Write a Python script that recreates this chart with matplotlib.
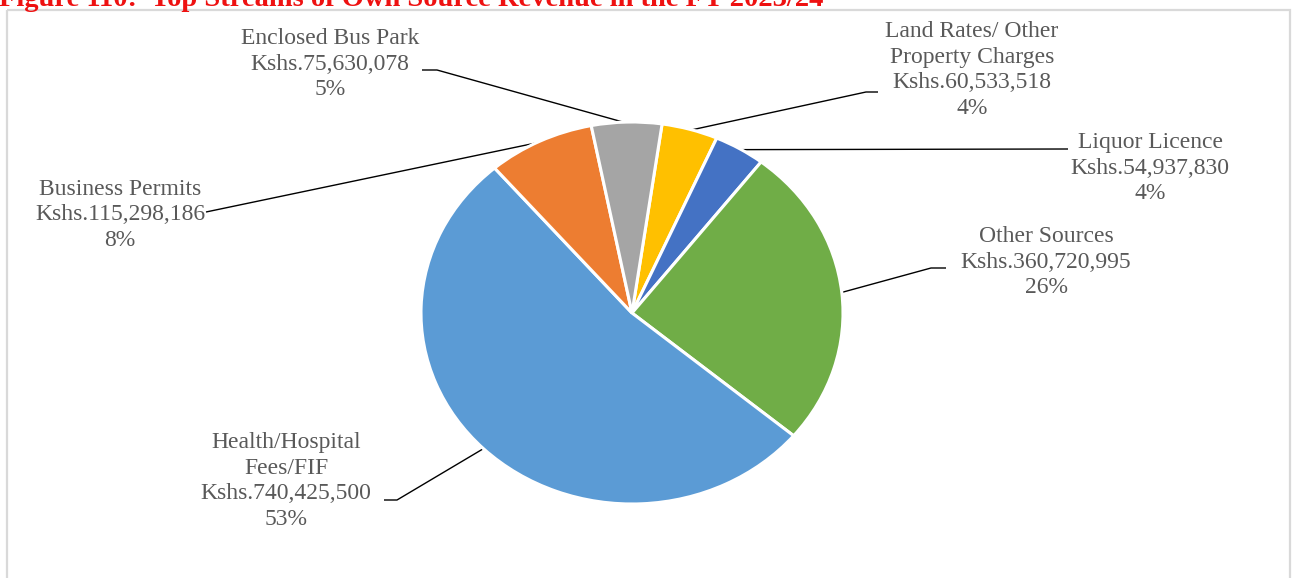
import numpy as np
import matplotlib
matplotlib.use("Agg")
import matplotlib.pyplot as plt
from matplotlib.patches import Rectangle

# Own source revenue streams (Kshs), in clockwise order from the top
streams = ["Land Rates/ Other\nProperty Charges", "Liquor Licence", "Other Sources",
           "Health/Hospital\nFees/FIF", "Business Permits", "Enclosed Bus Park"]
revenue = [60533518, 54937830, 360720995, 740425500, 115298186, 75630078]
colors = ["#FFC000", "#4472C4", "#70AD47", "#5B9BD5", "#ED7D31", "#A5A5A5"]
title = "Figure 110:  Top Streams of Own Source Revenue in the FY 2023/24"

W, H = 1292, 578
fig = plt.figure(figsize=(W / 100, H / 100), dpi=100)
fig.patch.set_facecolor("white")

# overlay in pixel coordinates for frame, labels and leader lines
ov = fig.add_axes([0, 0, 1, 1])
ov.set_xlim(0, W)
ov.set_ylim(H, 0)
ov.axis("off")

ov.add_patch(Rectangle((7, 10), 1283, 620, fill=False, edgecolor="#D9D9D9",
                       linewidth=1.6, clip_on=False))
ov.text(-1, 6, title, color="#EE1111", fontweight="bold", fontsize=20.5,
        family="Liberation Serif", ha="left", va="baseline")

# pie (slightly elliptical)
cx, cy, rx, ry = 632, 313, 211, 191
pie_ax = fig.add_axes([(cx - rx) / W, (H - cy - ry) / H, 2 * rx / W, 2 * ry / H])
wedges, _ = pie_ax.pie(revenue, colors=colors, startangle=81.8, counterclock=False,
                       wedgeprops=dict(edgecolor="white", linewidth=2.2))
pie_ax.set_aspect("auto")
pie_ax.set_xlim(-1, 1)
pie_ax.set_ylim(-1, 1)
pie_ax.patch.set_visible(False)

total = sum(revenue)
label_pos = [(972, 70), (1150, 168), (1046, 262), (286, 481), (120, 215), (330, 64)]
leader_pts = [
    [(878, 92), (866, 92)],
    [(1068, 149)],
    [(946, 268), (931, 268)],
    [(384, 500), (397, 500)],
    [(206, 212)],
    [(422, 70), (437, 70)],
]

for w, name, val, (lx, ly), pts in zip(wedges, streams, revenue, label_pos, leader_pts):
    pct = 100 * val / total
    txt = f"{name}\nKshs.{val:,}\n{pct:.0f}%"
    ov.text(lx, ly, txt, ha="center", va="center", fontsize=17,
            family="Liberation Serif", color="#595959", linespacing=1.28,
            multialignment="center")
    mid = np.deg2rad((w.theta1 + w.theta2) / 2)
    ex = cx + (rx - 1) * np.cos(mid)
    ey = cy - (ry - 1) * np.sin(mid)
    xs = [p[0] for p in pts] + [ex]
    ys = [p[1] for p in pts] + [ey]
    ov.plot(xs, ys, color="black", linewidth=1.0, solid_capstyle="butt")

fig.savefig("out.png", dpi=100)
